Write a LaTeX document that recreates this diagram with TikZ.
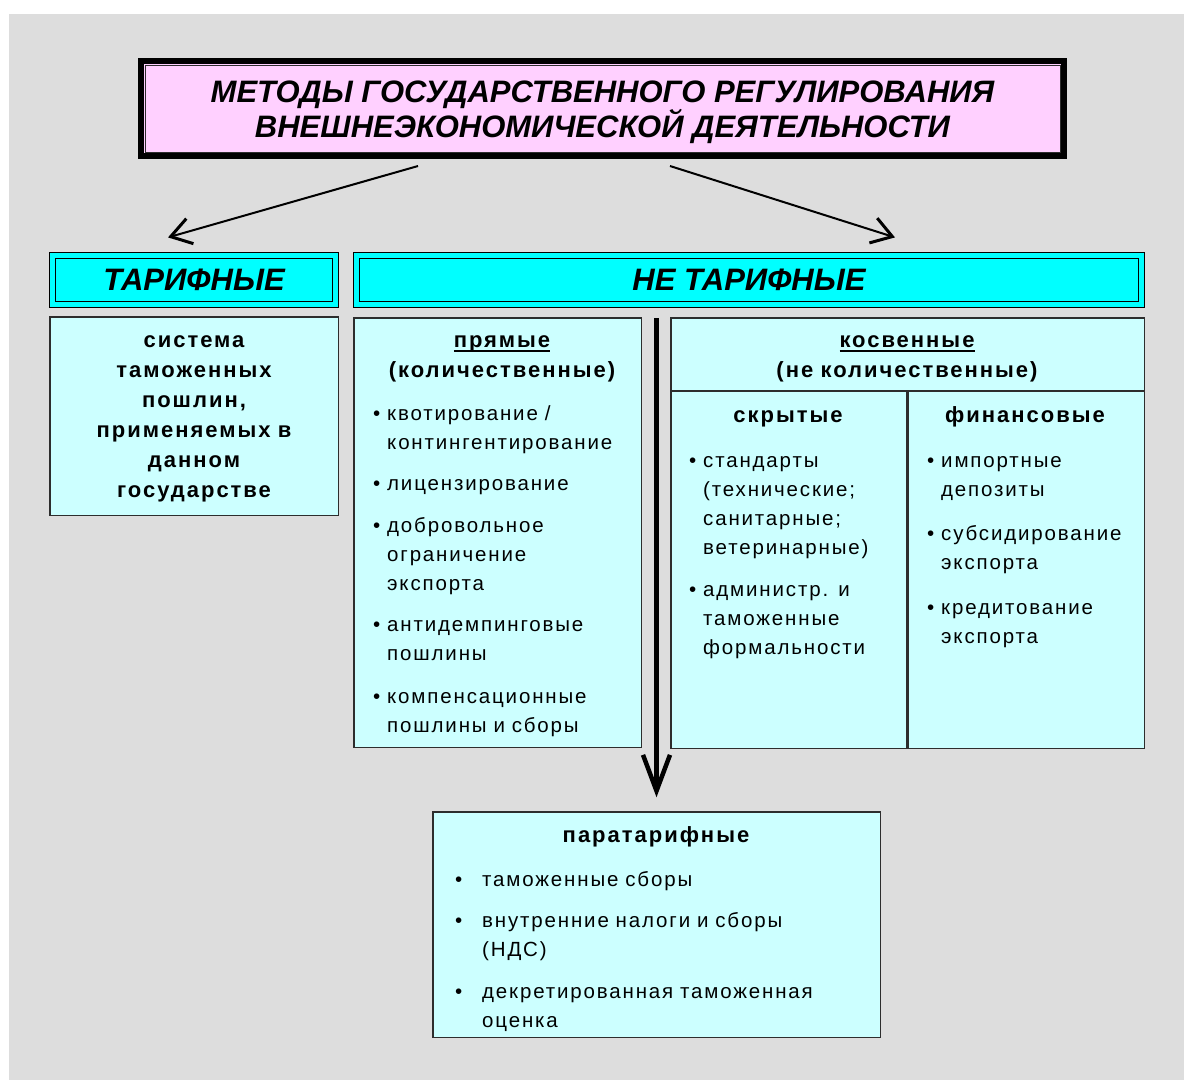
\documentclass[tikz,border=0pt]{standalone}
\usepackage{fontspec}
\setmainfont{Liberation Sans}
\newfontfamily\bodyfont[LetterSpace=9]{Liberation Sans}
\usepackage{tikz}
\usetikzlibrary{
    arrows.meta,
    positioning,
    calc
}
\usepackage{xcolor}
\definecolor{bggray}{RGB}{221,221,221}
\definecolor{titlepink}{RGB}{255,208,255}
\definecolor{headcyan}{RGB}{0,255,255}
\definecolor{boxcyan}{RGB}{204,255,255}
\definecolor{framegray}{RGB}{45,45,45}

\newcommand{\blt}[1][7pt]{\leavevmode\llap{\textbullet\hspace{#1}}}
\newcommand{\ulhead}[1]{\setbox0\hbox{#1}\rlap{\copy0}\rule[-5pt]{\wd0}{2pt}}

\begin{document}
\begin{tikzpicture}[
    x=1pt, y=-1pt,
    titlebox/.style={
        rectangle, draw=black, line width=6pt, fill=titlepink,
        minimum width=923pt, minimum height=95pt, inner sep=0pt
    },
    titletxt/.style={
        inner sep=0pt, align=center,
        font=\fontsize{31}{34}\selectfont\bfseries\itshape
    },
    headbox/.style={
        rectangle, draw=black, line width=1.3pt, double=headcyan,
        double distance=4.5pt, fill=headcyan, minimum height=48.9pt,
        inner sep=0pt, font=\fontsize{31}{34}\selectfont\bfseries\itshape
    },
    colbox/.style={
        rectangle, draw=framegray, line width=1.5pt, fill=boxcyan, inner sep=0pt
    },
    headtxt/.style={
        anchor=base, inner sep=0pt, text width=300pt, align=center,
        font=\bodyfont\bfseries\fontsize{22}{30}\selectfont
    },
    bodytxt/.style={
        anchor=base west, inner sep=0pt, align=left,
        font=\bodyfont\fontsize{20.5}{29}\selectfont
    },
    divline/.style={draw=framegray, line width=2.5pt},
    arr/.style={line width=2pt, -{Straight Barb[length=20pt, width=26pt, line width=3pt]}},
    downarr/.style={line width=4.5pt, -{Straight Barb[length=36pt, width=27pt]}}
]
\useasboundingbox (0,0) rectangle (1184,1080);
\fill[white] (0,0) rectangle (1184,1080);
\fill[bggray] (9,14) rectangle (1184,1080);

% Title
\node[titlebox] (title) at (602.5,108.5) {};
\draw[line width=1pt, draw=framegray] ($(title.north west)+(7,7)$) rectangle ($(title.south east)+(-7,-7)$);
\node[titletxt] (titlename) at (602.5,112) {МЕТОДЫ ГОСУДАРСТВЕННОГО РЕГУЛИРОВАНИЯ\\ВНЕШНЕЭКОНОМИЧЕСКОЙ ДЕЯТЕЛЬНОСТИ};

% Two groups
\node[headbox, minimum width=282.9pt] (tarif) at (194,280) {ТАРИФНЫЕ};
\node[headbox, minimum width=784.9pt] (netarif) at (749,280) {НЕ ТАРИФНЫЕ};

% Boxes under the groups
\node[colbox, minimum width=288.5pt, minimum height=198.5pt] (syst) at (194,416) {};
\node[colbox, minimum width=287.5pt, minimum height=429.5pt] (pryam) at (497.5,532.5) {};
\node[colbox, minimum width=473.5pt, minimum height=430.5pt] (kosv) at (907.5,533) {};
\node[colbox, minimum width=447.5pt, minimum height=225.5pt] (para) at (656.5,924.5) {};

\draw[divline] ($(kosv.north west)+(0,74)$) -- ($(kosv.north east)+(0,74)$);
\draw[divline] ($(kosv.north)+(0,74)$) -- (kosv.south);

% Texts
\node[headtxt] (systtxt) at (194,347) {система\\таможенных\\пошлин,\\применяемых в\\данном\\государстве};

\node[headtxt] (pryamhead) at (502,347) {\ulhead{прямые}\\(количественные)};
\node[bodytxt, text width=250pt] (pryamlist) at (387,420) {%
    \blt квотирование /\\контингентирование\\[12pt]
    \blt лицензирование\\[13pt]
    \blt добровольное\\ограничение\\экспорта\\[12pt]
    \blt антидемпинговые\\пошлины\\[14pt]
    \blt компенсационные\\пошлины и сборы};

\node[headtxt] (kosvhead) at (907,347) {\ulhead{косвенные}\\(не количественные)};
\node[headtxt] (skrhead) at (788,422) {скрытые};
\node[headtxt] (finhead) at (1025,422) {финансовые};
\node[bodytxt, text width=200pt] (skrlist) at (703,467) {%
    \blt стандарты\\(технические;\\санитарные;\\ветеринарные)\\[13pt]
    \blt администр. и\\таможенные\\формальности};
\node[bodytxt, text width=200pt] (finlist) at (941,467) {%
    \blt импортные\\депозиты\\[15pt]
    \blt субсидирование\\экспорта\\[16pt]
    \blt кредитование\\экспорта};

\node[headtxt] (parahead) at (656,842) {паратарифные};
\node[bodytxt, text width=380pt] (paralist) at (482,886) {%
    \blt[20pt]таможенные сборы\\[12pt]
    \blt[20pt]внутренние налоги и сборы\\(НДС)\\[13pt]
    \blt[20pt]декретированная таможенная\\оценка};

% Arrows
\draw[arr] ($(title.south)+(-184.5,7)$) -- ($(tarif.north)+(-26,-17.5)$);
\draw[arr] ($(title.south)+(67.5,7)$) -- ($(netarif.north)+(146,-17.5)$);
\draw[downarr, shorten >=13.75pt] ($(netarif.south -| para.north)+(0,13)$) -- (para.north);

\end{tikzpicture}
\end{document}
